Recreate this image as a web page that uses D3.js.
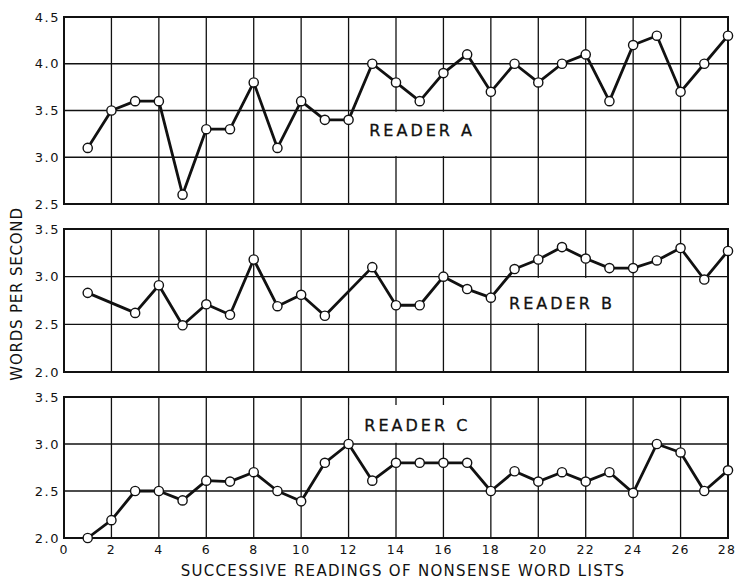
<!DOCTYPE html>
<html>
<head>
<meta charset="utf-8">
<script src="https://cdn.jsdelivr.net/npm/d3@7"></script>
<style>
  body { margin: 0; background: #fff; }
  svg text { font-family: "DejaVu Sans", sans-serif; fill: #111; }
</style>
</head>
<body>
<div id="chart"></div>
<script>
const width = 736;
const height = 579;

// readings 1..28, words per second (null = no point plotted)
const readings = d3.range(1, 29);
const readerA = [3.1, 3.5, 3.6, 3.6, 2.6, 3.3, 3.3, 3.8, 3.1, 3.6, 3.4, 3.4, 4.0, 3.8,
                 3.6, 3.9, 4.1, 3.7, 4.0, 3.8, 4.0, 4.1, 3.6, 4.2, 4.3, 3.7, 4.0, 4.3];
const readerB = [2.83, null, 2.62, 2.91, 2.49, 2.71, 2.6, 3.18, 2.69, 2.81, 2.59, null, 3.1, 2.7,
                 2.7, 3.0, 2.87, 2.78, 3.08, 3.18, 3.31, 3.19, 3.09, 3.09, 3.17, 3.3, 2.97, 3.27];
const readerC = [2.0, 2.19, 2.5, 2.5, 2.4, 2.61, 2.6, 2.7, 2.5, 2.39, 2.8, 3.0, 2.61, 2.8,
                 2.8, 2.8, 2.8, 2.5, 2.71, 2.6, 2.7, 2.6, 2.7, 2.48, 3.0, 2.91, 2.5, 2.72];
const xTicks = d3.range(0, 29, 2);
const yTicksA = [2.5, 3.0, 3.5, 4.0, 4.5];
const yTicksBC = [2.0, 2.5, 3.0, 3.5];

const panels = [
  { name: "READER A", values: readerA, ticks: yTicksA, top: 17, bottom: 204,
    box: [12, 18, 3.5, 3.0], label: [15.1, 3.23], stubTop: 0 },
  { name: "READER B", values: readerB, ticks: yTicksBC, top: 229, bottom: 372,
    box: [18, 24, 3.0, 2.5], label: [21.0, 2.66], stubTop: 0 },
  { name: "READER C", values: readerC, ticks: yTicksBC, top: 397, bottom: 538,
    box: [12, 18, 3.5, 3.0], label: [14.9, 3.14], stubTop: 8 }
];

const svg = d3.select("#chart").append("svg")
  .attr("width", width)
  .attr("height", height);

const x = d3.scaleLinear().domain([0, 28]).range([64, 728]);

panels.forEach(p => {
  const y = d3.scaleLinear()
    .domain([d3.min(p.ticks), d3.max(p.ticks)])
    .range([p.bottom, p.top]);
  const g = svg.append("g");

  // grid
  g.selectAll(".vgrid").data(xTicks.slice(1, -1)).enter().append("line")
    .attr("x1", d => x(d)).attr("x2", d => x(d))
    .attr("y1", p.top).attr("y2", p.bottom)
    .attr("stroke", "#111").attr("stroke-width", 1.3);
  g.selectAll(".hgrid").data(p.ticks.slice(1, -1)).enter().append("line")
    .attr("x1", x(0)).attr("x2", x(28))
    .attr("y1", d => y(d)).attr("y2", d => y(d))
    .attr("stroke", "#111").attr("stroke-width", 1.3);

  // white box behind the label
  const [bx0, bx1, by0, by1] = p.box;
  const boxTop = Math.max(y(by0) + 1.2, p.top + p.stubTop);
  g.append("rect")
    .attr("x", x(bx0) + 1.2)
    .attr("y", boxTop)
    .attr("width", x(bx1) - x(bx0) - 2.4)
    .attr("height", y(by1) - boxTop - 1.2)
    .attr("fill", "#fff");

  // frame
  g.append("rect")
    .attr("x", x(0)).attr("y", p.top)
    .attr("width", x(28) - x(0)).attr("height", p.bottom - p.top)
    .attr("fill", "none").attr("stroke", "#111").attr("stroke-width", 2);

  // y tick labels
  g.selectAll(".ytick").data(p.ticks).enter().append("text")
    .attr("x", 60)
    .attr("y", d => y(d))
    .attr("dy", "0.36em")
    .attr("text-anchor", "end")
    .style("font-size", "13px")
    .style("letter-spacing", "1.5px")
    .text(d => d.toFixed(1));

  g.append("text")
    .attr("x", x(p.label[0]))
    .attr("y", y(p.label[1]))
    .attr("text-anchor", "middle")
    .style("font-size", "16px")
    .style("letter-spacing", "3px")
    .style("stroke", "#111")
    .style("stroke-width", 0.3)
    .text(p.name);

  const pts = readings.map((r, i) => ({ r, v: p.values[i] })).filter(d => d.v != null);

  const line = d3.line().x(d => x(d.r)).y(d => y(d.v));
  g.append("path")
    .datum(pts)
    .attr("d", line)
    .attr("fill", "none")
    .attr("stroke", "#111")
    .attr("stroke-width", 2.8)
    .attr("stroke-linejoin", "round");

  g.selectAll(".pt").data(pts).enter().append("circle")
    .attr("cx", d => x(d.r))
    .attr("cy", d => y(d.v))
    .attr("r", 4.6)
    .attr("fill", "#fff")
    .attr("stroke", "#111")
    .attr("stroke-width", 1.4);
});

// x tick labels under bottom panel
svg.selectAll(".xtick").data(xTicks).enter().append("text")
  .attr("x", d => d === 28 ? x(d) - 1 : x(d))
  .attr("y", 554)
  .attr("text-anchor", "middle")
  .style("font-size", "12.5px")
  .style("letter-spacing", "1.2px")
  .text(d => d);

svg.append("text")
  .attr("x", 403)
  .attr("y", 576)
  .attr("text-anchor", "middle")
  .style("font-size", "15px")
  .style("letter-spacing", "1.3px")
  .text("SUCCESSIVE READINGS OF NONSENSE WORD LISTS");

svg.append("text")
  .attr("transform", "translate(22,294) rotate(-90)")
  .attr("text-anchor", "middle")
  .style("font-size", "15px")
  .style("letter-spacing", "0.8px")
  .text("WORDS PER SECOND");
</script>
</body>
</html>
